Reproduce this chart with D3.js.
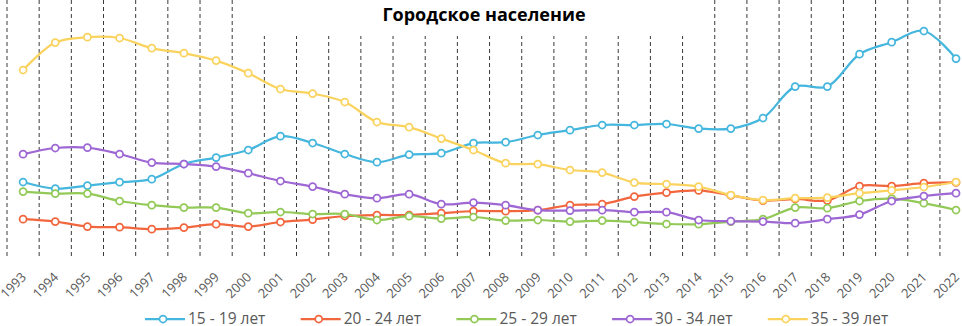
<!DOCTYPE html>
<html><head><meta charset="utf-8">
<script src="https://cdn.jsdelivr.net/npm/d3@7/dist/d3.min.js"></script>
<style>body{margin:0;background:#fff;overflow:hidden}svg{display:block}</style>
</head><body><svg id="c" width="962" height="326"></svg>
<script>
const title = "Городское население";
const years = ["1993","1994","1995","1996","1997","1998","1999","2000","2001","2002","2003","2004","2005","2006","2007","2008","2009","2010","2011","2012","2013","2014","2015","2016","2017","2018","2019","2020","2021","2022"];
const seriesNames = ["15 - 19 лет","20 - 24 лет","25 - 29 лет","30 - 34 лет","35 - 39 лет"];
const seriesColors = ["#45B6DD","#F2663E","#92C957","#9E67D4","#FAD35E"];
const age15_19 = [34,30.7,32.2,33.9,35.4,43,46.2,50,56.9,53.5,48,43.9,47.7,48.4,53.4,53.9,57.5,59.9,62.5,62.5,63,60.7,60.7,66,81.7,81.7,97.9,103.9,109.5,95.7];
const age20_24 = [15.4,14.2,11.7,11.4,10.4,11.2,12.9,11.7,14,15.2,17,17.5,17.5,18.4,19.5,19.4,19.9,22.5,23,26.7,28.7,29.8,27.3,24.7,25.5,24.8,32,32,33.4,33.8];
const age25_29 = [29.2,28.2,28.2,24.5,22.4,21.2,21.2,18.4,19,18,18,15,16.9,15.7,16.5,14.7,15,14.2,14.7,13.9,13,12.9,14.2,15.4,21.2,20.9,24.5,25.7,23.4,20];
const age30_34 = [47.9,51,51.2,48,43.7,43,41.7,38.4,34.5,31.7,27.9,25.9,27.9,22.9,23.7,22.4,19.9,19.7,19.9,18.9,18.9,15,14.4,14.2,13.4,15.4,17.7,24.5,27,28.4];
const age35_39 = [90,103.7,106.4,106,100.9,98.4,94.7,88.4,80.5,78.2,74,64,61.4,55.7,50,43.4,42.9,40,38.7,33.7,33,31.7,27.5,25,25.9,26.2,28.4,29.8,31.5,34];
const seriesValues = [age15_19, age20_24, age25_29, age30_34, age35_39];

const svg = d3.select("#c");
const band = 32.17;
const x = d3.scaleBand().domain(years).range([7, 7 + band * years.length]).padding(0);
const y = d3.scaleLinear().domain([0, 125]).range([250, 0]);
const cx = d => x(d) + x.bandwidth() / 2;

// dashed vertical separators between categories
const bounds = years.map(d => x(d)).concat([x.range()[1]]);
svg.append("g").selectAll("line").data(bounds).join("line")
  .attr("x1", d => d).attr("x2", d => d)
  .attr("y1", 0).attr("y2", 257)
  .attr("stroke", "#3a3a3a").attr("stroke-width", 1)
  .attr("stroke-dasharray", "4,3");

// title with white background
svg.append("rect").attr("x", 245).attr("y", 0).attr("width", 455).attr("height", 36).attr("fill", "#fff");
svg.append("text").attr("x", 484).attr("y", 21).attr("text-anchor", "middle")
  .attr("font-family", "'Open Sans', sans-serif").attr("font-weight", 700).attr("font-size", 18)
  .attr("fill", "#000").text(title);

// x axis labels
const ax = svg.append("g").attr("transform", "translate(0,257)")
  .call(d3.axisBottom(x).tickSize(0));
ax.select(".domain").remove();
ax.selectAll("text")
  .attr("x", 0).attr("y", 0).attr("dy", 0)
  .attr("text-anchor", "end")
  .attr("transform", "translate(4,21) rotate(-45)")
  .attr("font-family", "'Open Sans', sans-serif").attr("font-size", 13)
  .attr("fill", "#595959");

// lines
const line = d3.line().x((v, i) => cx(years[i])).y(v => y(v)).curve(d3.curveCatmullRom.alpha(0.5));
seriesValues.forEach((vals, si) => {
  const g = svg.append("g");
  g.append("path").attr("d", line(vals)).attr("fill", "none")
    .attr("stroke", seriesColors[si]).attr("stroke-width", 2.25).attr("stroke-linejoin", "round");
  g.selectAll("circle").data(vals).join("circle")
    .attr("cx", (v, i) => cx(years[i])).attr("cy", v => y(v)).attr("r", 3.5)
    .attr("fill", "#fff").attr("stroke", seriesColors[si]).attr("stroke-width", 1.75);
});

// legend
const lg = svg.append("g").attr("transform", "translate(145,319)");
seriesNames.forEach((name, i) => {
  const it = lg.append("g").attr("transform", `translate(${i * 155.7},0)`);
  it.append("line").attr("x1", 0).attr("x2", 40).attr("y1", 0).attr("y2", 0)
    .attr("stroke", seriesColors[i]).attr("stroke-width", 2.25);
  it.append("circle").attr("cx", 18).attr("cy", 0).attr("r", 3.5)
    .attr("fill", "#fff").attr("stroke", seriesColors[i]).attr("stroke-width", 1.75);
  it.append("text").attr("x", 43).attr("y", 5)
    .attr("font-family", "'Open Sans', sans-serif").attr("font-size", 15.5)
    .attr("fill", "#595959").text(name);
});
</script></body></html>
